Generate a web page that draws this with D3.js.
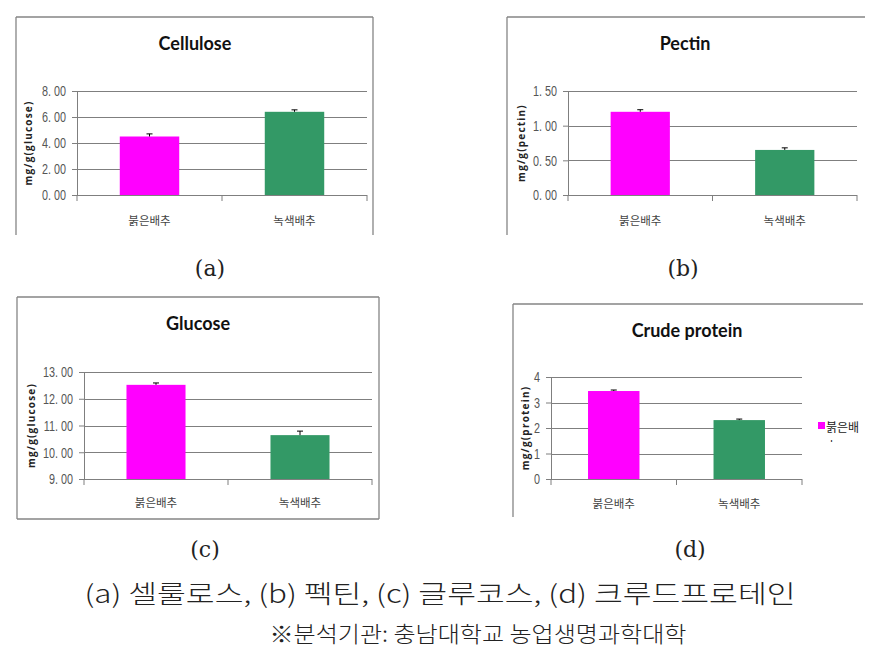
<!DOCTYPE html>
<html>
<head>
<meta charset="utf-8">
<script src="https://cdn.jsdelivr.net/npm/d3@7"></script>
<style>
  body { margin: 0; background: #fff; }
  .tick text { font-family: "Liberation Sans", "DejaVu Sans", sans-serif; fill: #555; }
</style>
</head>
<body>
<div id="chart"></div>
<script>
// Red vs green cabbage composition, four small bar charts

var categories = ["붉은배추", "녹색배추"];
var barColors = ["#ff00ff", "#339966"];

var titles = ["Cellulose", "Pectin", "Glucose", "Crude protein"];
var yLabels = ["mg/g(glucose)", "mg/g(pectin)", "mg/g(glucose)", "mg/g(protein)"];

// values and error bars
var cellulose = [4.50, 6.40];
var celluloseErr = [0.20, 0.15];
var pectin = [1.20, 0.65];
var pectinErr = [0.03, 0.03];
var glucose = [12.52, 10.64];
var glucoseErr = [0.07, 0.15];
var protein = [3.45, 2.31];
var proteinErr = [0.04, 0.04];

// tick values per panel
var celluloseTicks = [0, 2, 4, 6, 8];
var pectinTicks = [0, 0.5, 1, 1.5];
var glucoseTicks = [9, 10, 11, 12, 13];
var proteinTicks = [0, 1, 2, 3, 4];

var panelLetters = ["(a)", "(b)", "(c)", "(d)"];
var caption1 = "(a) 셀룰로스, (b) 펙틴, (c) 글루코스, (d) 크루드프로테인";
var caption2 = "※분석기관: 충남대학교 농업생명과학대학";
var legendText = "붉은배추";

var width = 882, height = 657;

var svg = d3.select("#chart")
  .append("svg")
  .attr("width", width)
  .attr("height", height);

// panel layout
var panels = [
  { values: cellulose, err: celluloseErr, ticks: celluloseTicks, fmt: ".2f",
    frame: { x0: 16, y0: 17, x1: 373, y1: 235, sides: "tlr" },
    plot: { x0: 77, x1: 367, y0: 91, y1: 195 },
    titleX: 195, titleY: 50, labX: 28, catY: 225, letterX: 210, letterY: 276 },
  { values: pectin, err: pectinErr, ticks: pectinTicks, fmt: ".2f",
    frame: { x0: 507, y0: 17, x1: 865, y1: 235, sides: "tl" },
    plot: { x0: 568, x1: 857, y0: 91, y1: 195 },
    titleX: 685, titleY: 50, labX: 521, catY: 225, letterX: 683, letterY: 276 },
  { values: glucose, err: glucoseErr, ticks: glucoseTicks, fmt: ".2f",
    frame: { x0: 17, y0: 297, x1: 379, y1: 519, sides: "tlrb" },
    plot: { x0: 84, x1: 372, y0: 372, y1: 479 },
    titleX: 198, titleY: 330, labX: 31, catY: 507, letterX: 205, letterY: 557 },
  { values: protein, err: proteinErr, ticks: proteinTicks, fmt: "d",
    frame: { x0: 513, y0: 304, x1: 863, y1: 517, sides: "tl" },
    plot: { x0: 551, x1: 802, y0: 377, y1: 479 },
    titleX: 687, titleY: 337, labX: 525, catY: 508, letterX: 690, letterY: 557 }
];

panels.forEach(function(p, i) {
  var g = svg.append("g").attr("class", "panel");
  var f = p.frame;

  // chart area border (only the sides visible in the original)
  var borderSides = {
    t: [f.x0, f.y0, f.x1, f.y0],
    l: [f.x0, f.y0, f.x0, f.y1],
    r: [f.x1, f.y0, f.x1, f.y1],
    b: [f.x0, f.y1, f.x1, f.y1]
  };
  f.sides.split("").forEach(function(s) {
    var c = borderSides[s];
    g.append("line")
      .attr("x1", c[0]).attr("y1", c[1]).attr("x2", c[2]).attr("y2", c[3])
      .attr("stroke", "#858585").attr("stroke-width", 1.3);
  });

  var xScale = d3.scaleBand()
    .domain(categories)
    .range([p.plot.x0, p.plot.x1])
    .paddingInner(0.59)
    .paddingOuter(0.295);

  var yScale = d3.scaleLinear()
    .domain(d3.extent(p.ticks))
    .range([p.plot.y1, p.plot.y0]);

  // gridlines
  g.append("g")
    .selectAll("line")
    .data(p.ticks.slice(1))
    .join("line")
    .attr("x1", p.plot.x0)
    .attr("x2", p.plot.x1)
    .attr("y1", function(d) { return Math.round(yScale(d)) + 0.5; })
    .attr("y2", function(d) { return Math.round(yScale(d)) + 0.5; })
    .attr("stroke", "#7f7f7f")
    .attr("stroke-width", 1);

  // y axis
  var yAxis = d3.axisLeft(yScale)
    .tickValues(p.ticks)
    .tickSize(5)
    .tickPadding(6)
    .tickFormat(function(d) {
      var s = d3.format(p.fmt)(d);
      return s.replace(".", ". ");
    });
  var ya = g.append("g")
    .attr("transform", "translate(" + p.plot.x0 + ",0)")
    .call(yAxis);
  ya.select(".domain").attr("stroke", "#7f7f7f");
  ya.selectAll(".tick line").attr("stroke", "#7f7f7f");
  // condensed look of the original tick font
  ya.selectAll(".tick text")
    .style("font-size", "15px")
    .each(function() {
      var w = this.getComputedTextLength();
      d3.select(this)
        .attr("textLength", w * 0.72)
        .attr("lengthAdjust", "spacingAndGlyphs");
    });

  // x axis baseline and category separators
  var xa = g.append("g");
  xa.append("line")
    .attr("x1", p.plot.x0).attr("x2", p.plot.x1)
    .attr("y1", p.plot.y1 + 0.5).attr("y2", p.plot.y1 + 0.5)
    .attr("stroke", "#7f7f7f");
  var sepX = [p.plot.x0, (p.plot.x0 + p.plot.x1) / 2, p.plot.x1];
  xa.selectAll("line.sep")
    .data(sepX)
    .join("line")
    .attr("class", "sep")
    .attr("x1", function(d) { return d; })
    .attr("x2", function(d) { return d; })
    .attr("y1", p.plot.y1)
    .attr("y2", p.plot.y1 + 6)
    .attr("stroke", "#7f7f7f");

  // category labels
  g.selectAll("text.cat")
    .data(categories)
    .join("text")
    .attr("class", "cat")
    .attr("x", function(d) { return xScale(d) + xScale.bandwidth() / 2; })
    .attr("y", p.catY)
    .attr("text-anchor", "middle")
    .style("font-family", "'Noto Sans CJK KR', sans-serif")
    .style("font-size", "11.5px")
    .style("fill", "#444")
    .text(function(d) { return d; });

  // bars
  g.selectAll("rect.bar")
    .data(p.values)
    .join("rect")
    .attr("class", "bar")
    .attr("x", function(d, j) { return xScale(categories[j]); })
    .attr("width", xScale.bandwidth())
    .attr("y", function(d) { return yScale(d); })
    .attr("height", function(d) { return p.plot.y1 - yScale(d); })
    .attr("fill", function(d, j) { return barColors[j]; });

  // error bars (upper only)
  var eb = g.selectAll("g.err")
    .data(p.values)
    .join("g")
    .attr("class", "err");
  eb.append("line")
    .attr("x1", function(d, j) { return xScale(categories[j]) + xScale.bandwidth() / 2; })
    .attr("x2", function(d, j) { return xScale(categories[j]) + xScale.bandwidth() / 2; })
    .attr("y1", function(d) { return yScale(d); })
    .attr("y2", function(d, j) { return yScale(d + p.err[j]); })
    .attr("stroke", "#000");
  eb.append("line")
    .attr("x1", function(d, j) { return xScale(categories[j]) + xScale.bandwidth() / 2 - 3; })
    .attr("x2", function(d, j) { return xScale(categories[j]) + xScale.bandwidth() / 2 + 3; })
    .attr("y1", function(d, j) { return yScale(d + p.err[j]); })
    .attr("y2", function(d, j) { return yScale(d + p.err[j]); })
    .attr("stroke", "#000");

  // title
  g.append("text")
    .attr("x", p.titleX)
    .attr("y", p.titleY)
    .attr("text-anchor", "middle")
    .style("font-family", "Lato, 'Open Sans', sans-serif")
    .style("font-weight", "bold")
    .style("font-size", "18px")
    .style("fill", "#111")
    .text(titles[i]);

  // y label
  g.append("text")
    .attr("transform", "translate(" + p.labX + "," + ((p.plot.y0 + p.plot.y1) / 2) + ") rotate(-90)")
    .attr("text-anchor", "middle")
    .attr("dy", "0.35em")
    .style("font-family", "'Open Sans', sans-serif")
    .style("font-weight", "bold")
    .style("font-size", "10px")
    .style("letter-spacing", "1.2px")
    .style("fill", "#222")
    .text(yLabels[i]);

  // panel letter below
  svg.append("text")
    .attr("x", p.letterX)
    .attr("y", p.letterY)
    .attr("text-anchor", "middle")
    .style("font-family", "'DejaVu Serif', serif")
    .style("font-size", "22px")
    .style("fill", "#222")
    .text(panelLetters[i]);
});

// legend in panel (d), text clipped by the chart box
svg.append("defs").append("clipPath")
  .attr("id", "legClip")
  .append("rect")
  .attr("x", 810).attr("y", 410).attr("width", 52).attr("height", 32);

var leg = svg.append("g").attr("clip-path", "url(#legClip)");
leg.append("rect")
  .attr("x", 818).attr("y", 422).attr("width", 7).attr("height", 7)
  .attr("fill", barColors[0]);
leg.append("text")
  .attr("x", 826).attr("y", 432)
  .style("font-family", "'Noto Sans CJK KR', sans-serif")
  .style("font-size", "12px")
  .style("fill", "#222")
  .text(legendText.slice(0, 3));
leg.append("text")
  .attr("x", 826).attr("y", 451)
  .style("font-family", "'Noto Sans CJK KR', sans-serif")
  .style("font-size", "12px")
  .style("fill", "#222")
  .text(legendText.slice(3));

// captions
svg.append("text")
  .attr("x", 440)
  .attr("y", 603)
  .attr("text-anchor", "middle")
  .attr("textLength", 711)
  .attr("lengthAdjust", "spacingAndGlyphs")
  .style("font-family", "'Noto Sans CJK KR', sans-serif")
  .style("font-weight", "300")
  .style("font-size", "25px")
  .style("fill", "#222")
  .text(caption1);

svg.append("text")
  .attr("x", 478)
  .attr("y", 642)
  .attr("text-anchor", "middle")
  .attr("textLength", 417)
  .attr("lengthAdjust", "spacingAndGlyphs")
  .style("font-family", "'Noto Sans CJK KR', sans-serif")
  .style("font-weight", "300")
  .style("font-size", "22px")
  .style("fill", "#222")
  .text(caption2);
</script>
</body>
</html>
